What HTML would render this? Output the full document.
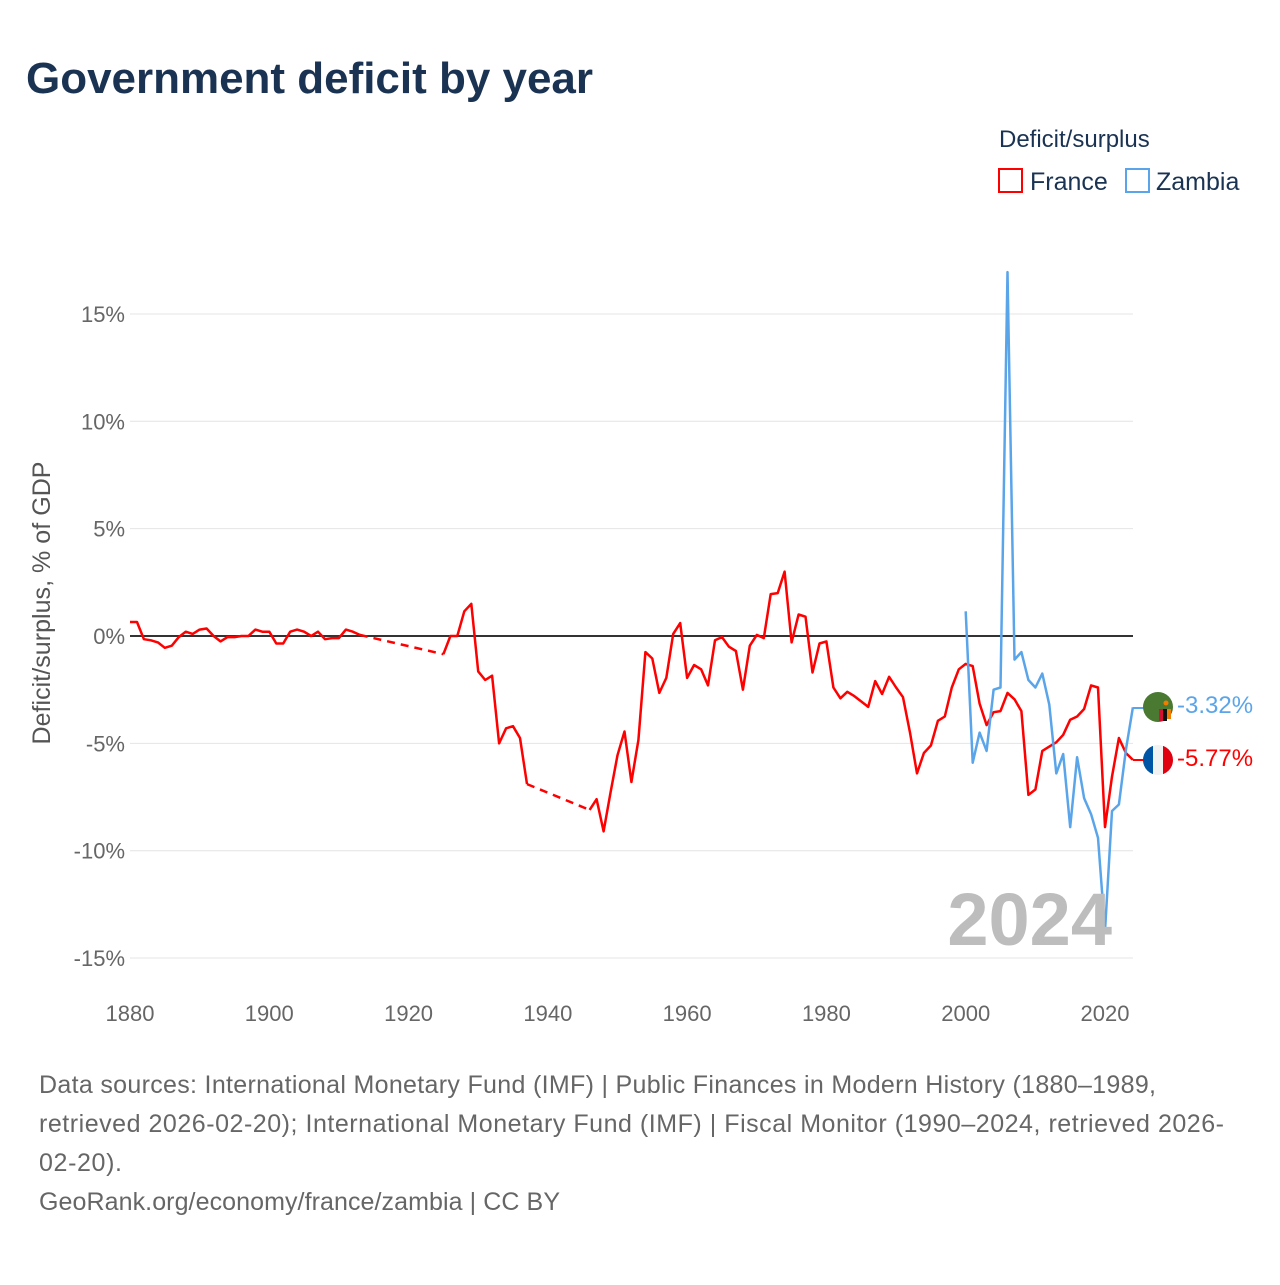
<!DOCTYPE html>
<html><head><meta charset="utf-8"><style>
body{margin:0;background:#fff;width:1280px;height:1280px;overflow:hidden;font-family:"Liberation Sans",sans-serif}
</style></head><body>
<svg id="chart" width="1280" height="1280" xmlns="http://www.w3.org/2000/svg" font-family="Liberation Sans, sans-serif">
<text x="26" y="93" font-size="44" font-weight="bold" fill="#1b3352" textLength="567">Government deficit by year</text>
<g>
<text x="999" y="147" font-size="24" fill="#1b3352">Deficit/surplus</text>
<g><rect x="999" y="169" width="23" height="23" fill="none" stroke="#ff0000" stroke-width="2"/><text x="1030" y="190" font-size="25" fill="#1b3352">France</text></g>
<g><rect x="1126" y="169" width="23" height="23" fill="none" stroke="#5aa5ea" stroke-width="2"/><text x="1156" y="190" font-size="25" fill="#1b3352">Zambia</text></g>
</g>
<text transform="translate(50,603) rotate(-90)" text-anchor="middle" font-size="25" fill="#555" textLength="283">Deficit/surplus, % of GDP</text>
<g id="grid"></g><g id="xt"></g><g id="series"></g>
<text x="1112" y="945" text-anchor="end" font-size="74" font-weight="bold" fill="#bdbdbd">2024</text>
<g>
<path d="M1133 708 H1146" stroke="#5aa5ea" stroke-width="2" fill="none"/>
<path d="M1133 760 H1146" stroke="#ff0000" stroke-width="2" fill="none"/>
<g><circle cx="1158" cy="707" r="15" fill="#4a7a32"/><rect x="1159" y="709" width="4" height="12" fill="#d21034"/><rect x="1163" y="709" width="4" height="12" fill="#111"/><rect x="1167" y="709" width="4" height="10" fill="#ef7d00"/><circle cx="1166" cy="703" r="2.5" fill="#ef7d00"/></g>
<g><clipPath id="fc"><circle cx="1158" cy="760" r="15"/></clipPath><g clip-path="url(#fc)"><rect x="1143" y="745" width="10" height="30" fill="#0055a4"/><rect x="1153" y="745" width="10" height="30" fill="#f2f2f2"/><rect x="1163" y="745" width="10" height="30" fill="#e1000f"/></g></g>
<text x="1177" y="713" font-size="24" fill="#5aa5ea">-3.32%</text>
<text x="1177" y="766" font-size="24" fill="#ff0000">-5.77%</text>
</g>
<g font-size="25" fill="#666">
<text x="39" y="1093" textLength="1117">Data sources: International Monetary Fund (IMF) | Public Finances in Modern History (1880–1989,</text>
<text x="39" y="1132" textLength="1185">retrieved 2026-02-20); International Monetary Fund (IMF) | Fiscal Monitor (1990–2024, retrieved 2026-</text>
<text x="39" y="1171" textLength="83">02-20).</text>
<text x="39" y="1210" textLength="521">GeoRank.org/economy/france/zambia | CC BY</text>
</g>
</svg>
<script>
const yTicks=[15,10,5,0,-5,-10,-15];
const xTicks=[1880,1900,1920,1940,1960,1980,2000,2020];
const franceYears=[];for(let y=1880;y<=2024;y++)franceYears.push(y);
const franceValues=[0.65,0.65,-0.15,-0.2,-0.3,-0.55,-0.45,-0.05,0.2,0.1,0.3,0.35,0,-0.25,-0.05,-0.05,0,0,0.3,0.2,0.2,-0.35,-0.35,0.2,0.3,0.2,0,0.2,-0.15,-0.1,-0.1,0.3,0.2,0.05,
null,null,null,null,null,null,null,null,null,null,null,
-0.85,0,0,1.15,1.5,-1.65,-2.05,-1.85,-5.0,-4.3,-4.2,-4.75,-6.9,
null,null,null,null,null,null,null,null,
-8.1,-7.6,-9.1,-7.3,-5.55,-4.45,-6.8,-4.85,-0.75,-1.05,-2.65,-1.95,0.1,0.6,-1.95,-1.35,-1.55,-2.3,-0.2,-0.05,-0.5,-0.7,-2.5,-0.45,0.05,-0.1,1.95,2.0,3.0,-0.3,1.0,0.9,-1.7,-0.35,-0.25,-2.4,-2.9,-2.6,-2.8,-3.05,-3.3,-2.1,-2.7,-1.9,-2.4,-2.85,-4.5,-6.4,-5.45,-5.1,-3.95,-3.75,-2.4,-1.55,-1.3,-1.4,-3.15,-4.15,-3.55,-3.5,-2.65,-2.95,-3.5,-7.4,-7.15,-5.35,-5.15,-4.95,-4.6,-3.9,-3.75,-3.4,-2.3,-2.4,-8.9,-6.55,-4.75,-5.45,-5.77];
const zambiaYears=[];for(let y=2000;y<=2024;y++)zambiaYears.push(y);
const zambiaValues=[1.15,-5.9,-4.5,-5.35,-2.5,-2.4,16.95,-1.1,-0.75,-2.05,-2.4,-1.75,-3.2,-6.4,-5.5,-8.9,-5.65,-7.55,-8.3,-9.4,-13.75,-8.15,-7.85,-5.3,-3.32];
const X=y=>130+(y-1880)*(975/140);
const Y=v=>636-v*21.47;
const NS='http://www.w3.org/2000/svg';
function mk(t,a,p){const e=document.createElementNS(NS,t);for(const k in a)e.setAttribute(k,a[k]);p.appendChild(e);return e;}
const grid=document.getElementById('grid');
yTicks.forEach(v=>{
 const l=mk('line',{x1:130,x2:1133,y1:Y(v),y2:Y(v),stroke:v===0?'#333':'#e4e4e4','stroke-width':v===0?2:1},grid);
 
 
 const t=mk('text',{x:125,y:Y(v)+8,'text-anchor':'end','font-size':22,fill:'#666'},grid);
 t.textContent=v+'%';
 
 
});
const xt=document.getElementById('xt');
xTicks.forEach(v=>{
 const t=mk('text',{x:X(v),y:1021,'text-anchor':'middle','font-size':22,fill:'#666'},xt);
 t.textContent=v;
 
 
});
const ser=document.getElementById('series');
function draw(years,vals,color,name){
 let solid='',pen=false,prev=null,dash='';
 for(let i=0;i<years.length;i++){
  const v=vals[i];
  if(v===null||v===undefined){pen=false;continue;}
  const x=X(years[i]).toFixed(1),y=Y(v).toFixed(1);
  if(!pen&&prev){dash+='M'+prev[0]+' '+prev[1]+'L'+x+' '+y;}
  solid+=(pen?'L':'M')+x+' '+y;pen=true;prev=[x,y];
 }
 const p=mk('path',{d:solid,fill:'none',stroke:color,'stroke-width':2.5,'stroke-linejoin':'round'},ser);
 
 
 if(dash){const d=mk('path',{d:dash,fill:'none',stroke:color,'stroke-width':2.5,'stroke-dasharray':'8,6'},ser);
 
 }
}
draw(franceYears,franceValues,'#ff0000','france');
draw(zambiaYears,zambiaValues,'#5aa5ea','zambia');
</script>
</body></html>
